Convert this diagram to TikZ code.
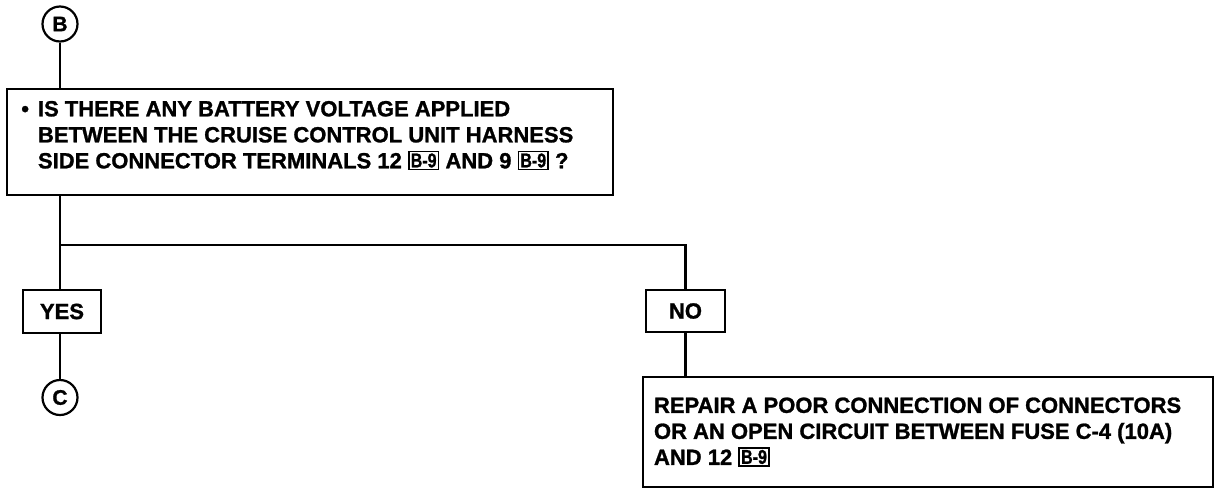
\documentclass[tikz,border=0pt]{standalone}
\usepackage{fontspec}
\setmainfont{Liberation Sans}[BoldFeatures={FakeBold=1.2}]
\usepackage{tikz}
\usetikzlibrary{positioning}
\newcommand{\termref}[1]{\raisebox{1pt}{\setlength{\fboxsep}{1pt}\setlength{\fboxrule}{1.8pt}\fbox{\fontsize{20}{22}\selectfont\scalebox{0.8}[1]{#1}}}}

\begin{document}
\begin{tikzpicture}[x=1pt,y=-1pt,line width=2.2pt,
  every node/.style={font=\bfseries\fontsize{22}{26}\selectfont},
  frame/.style={draw,inner sep=0pt},
  tag/.style={draw,circle,minimum size=35pt,inner sep=0pt,font=\bfseries\fontsize{21}{22}\selectfont},
  txt/.style={inner sep=0pt,align=left}]
  \useasboundingbox (0,0) rectangle (1232,496);
  \node[tag] (B) at (60,24) {B};
  \node[frame,minimum width=606pt,minimum height=106pt] (q) at (310,142) {};
  \node[txt,below right=12pt and 31pt of q.north west] (qtext)
    {\llap{\textbullet\hspace{9pt}}IS THERE ANY BATTERY VOLTAGE APPLIED\\
     BETWEEN THE CRUISE CONTROL UNIT HARNESS\\
     SIDE CONNECTOR TERMINALS 12 \termref{B-9} AND 9 \termref{B-9} ?};
  \coordinate (fork) at (60,245);
  \node[frame,minimum width=78pt,minimum height=43pt] (yes) at (62,311.5) {YES};
  \node[frame,minimum width=79pt,minimum height=42pt] (no) at (685.5,311) {NO};
  \node[tag] (C) at (60,397.5) {C};
  \node[frame,minimum width=570pt,minimum height=110pt] (rep) at (928,432) {};
  \node[txt,below right=20.5pt and 11pt of rep.north west] (reptext)
    {REPAIR A POOR CONNECTION OF CONNECTORS\\
     OR AN OPEN CIRCUIT BETWEEN FUSE C-4 (10A)\\
     AND 12 \termref{B-9}};
  \draw (B) -- (B |- q.north);
  \draw (fork |- q.south) -- (fork |- yes.north);
  \draw (fork) -| (no.north);
  \draw (fork |- yes.south) -- (C);
  \draw (no.south) -- (no.south |- rep.north);
\end{tikzpicture}
\end{document}
